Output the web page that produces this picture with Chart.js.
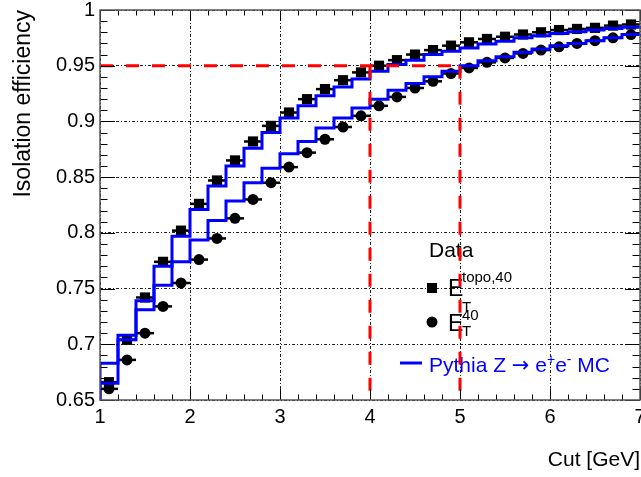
<!DOCTYPE html>
<html lang="en">
<head>
<meta charset="UTF-8" />
<title>Isolation efficiency vs cut</title>
<style>
  body { margin: 0; background: #fff; }
  canvas { display: block; }
</style>
<script src="https://cdn.jsdelivr.net/npm/chart.js"></script>
</head>
<body>
<canvas id="chart" width="641" height="477"></canvas>
<script>
// bin centres of the isolation cut [GeV], bins 0.2 GeV wide
const cutCenters = [1.1, 1.3, 1.5, 1.7, 1.9, 2.1, 2.3, 2.5, 2.7, 2.9,
                    3.1, 3.3, 3.5, 3.7, 3.9, 4.1, 4.3, 4.5, 4.7, 4.9,
                    5.1, 5.3, 5.5, 5.7, 5.9, 6.1, 6.3, 6.5, 6.7, 6.9];
const binHalfWidth = 0.1;

// Data, E_T^{topo,40} (squares)
const dataTopo = [0.666, 0.704, 0.742, 0.774, 0.802, 0.826, 0.847, 0.865, 0.882, 0.896,
                  0.908, 0.920, 0.929, 0.937, 0.944, 0.950, 0.955, 0.960, 0.964, 0.968,
                  0.971, 0.974, 0.976, 0.978, 0.980, 0.982, 0.983, 0.984, 0.986, 0.987];
// Data, E_T^{40} (circles)
const dataCalo = [0.660, 0.686, 0.710, 0.734, 0.755, 0.776, 0.795, 0.813, 0.830, 0.845,
                  0.859, 0.872, 0.884, 0.895, 0.905, 0.914, 0.922, 0.930, 0.936, 0.943,
                  0.948, 0.953, 0.957, 0.961, 0.964, 0.967, 0.970, 0.9725, 0.975, 0.978];
// Pythia Z -> ee MC histograms
const mcTopo = [0.683, 0.708, 0.739, 0.770, 0.797, 0.821, 0.842, 0.860, 0.876, 0.890,
                0.903, 0.914, 0.923, 0.931, 0.938, 0.945, 0.951, 0.955, 0.960, 0.963,
                0.966, 0.9695, 0.972, 0.975, 0.977, 0.979, 0.9805, 0.982, 0.9835, 0.9845];
const mcCalo = [0.665, 0.704, 0.731, 0.753, 0.774, 0.7935, 0.811, 0.8285, 0.845, 0.858,
                0.871, 0.882, 0.894, 0.903, 0.912, 0.920, 0.928, 0.934, 0.940, 0.945,
                0.950, 0.9545, 0.958, 0.962, 0.965, 0.968, 0.970, 0.9725, 0.975, 0.978];

// 95% working point and the two cuts reaching it
const targetEff = 0.95;
const chosenCuts = [4, 5];

const xMin = 1, xMax = 7, xStep = 1, xMinor = 0.2;
const yMin = 0.65, yMax = 1, yStep = 0.05, yMinor = 0.01;

const FONT = '"Liberation Sans", Arial, Helvetica, sans-serif';
const BLUE = '#0000ff';
const RED = '#ff0000';

function points(ys) {
  return cutCenters.map((c, i) => ({ x: c, y: ys[i] }));
}
// histogram outline: start at the axis floor, then each bin's right edge
function histo(ys) {
  const pts = [{ x: cutCenters[0] - binHalfWidth, y: yMin }];
  cutCenters.forEach((c, i) => pts.push({ x: c + binHalfWidth, y: ys[i] }));
  return pts;
}

const errorBars = {
  id: 'errorBars',
  beforeDatasetsDraw(chart) {
    const { ctx, scales: { x, y } } = chart;
    ctx.save();
    ctx.strokeStyle = '#000';
    ctx.lineWidth = 2.5;
    [dataTopo, dataCalo].forEach(ys => {
      cutCenters.forEach((c, i) => {
        const py = y.getPixelForValue(ys[i]);
        ctx.beginPath();
        ctx.moveTo(x.getPixelForValue(c - binHalfWidth), py);
        ctx.lineTo(x.getPixelForValue(c + binHalfWidth), py);
        ctx.stroke();
      });
    });
    ctx.restore();
  }
};

const legendBox = {
  id: 'legendBox',
  beforeDatasetsDraw(chart) {
    const ctx = chart.ctx;
    ctx.save();
    ctx.textBaseline = 'alphabetic';
    ctx.textAlign = 'left';
    ctx.fillStyle = '#000';
    ctx.font = '21px ' + FONT;
    ctx.fillText('Data', 429, 257);

    // square entry
    ctx.fillRect(427, 283, 10, 10);
    ctx.font = '23px ' + FONT;
    ctx.fillText('E', 448, 296);
    ctx.font = '15px ' + FONT;
    ctx.fillText('topo,40', 462, 282);
    ctx.fillText('T', 462, 312);

    // circle entry
    ctx.beginPath();
    ctx.arc(432, 322, 5.5, 0, Math.PI * 2);
    ctx.fill();
    ctx.font = '23px ' + FONT;
    ctx.fillText('E', 448, 331);
    ctx.font = '15px ' + FONT;
    ctx.fillText('40', 462, 320);
    ctx.fillText('T', 462, 336);

    // MC entry
    ctx.strokeStyle = BLUE;
    ctx.lineWidth = 3;
    ctx.beginPath();
    ctx.moveTo(400, 363);
    ctx.lineTo(422, 363);
    ctx.stroke();
    ctx.fillStyle = BLUE;
    let xx = 429;
    const parts = [
      ['Pythia Z ', '21px ' + FONT, 0],
      ['\u2192', '21px "DejaVu Sans", sans-serif', 0],
      [' e', '21px ' + FONT, 0],
      ['+', '14px ' + FONT, -8],
      ['e', '21px ' + FONT, 0],
      ['-', '14px ' + FONT, -8],
      [' MC', '21px ' + FONT, 0]
    ];
    parts.forEach(([t, f, dy]) => {
      ctx.font = f;
      ctx.fillText(t, xx, 372 + dy);
      xx += ctx.measureText(t).width;
    });
    ctx.restore();
  }
};

const frameTicks = {
  id: 'frameTicks',
  afterDraw(chart) {
    const { ctx, chartArea: a, scales: { x, y } } = chart;
    ctx.save();
    ctx.strokeStyle = '#000';
    ctx.lineWidth = 1;
    ctx.beginPath();
    const nx = Math.round((xMax - xMin) / xMinor);
    for (let i = 0; i <= nx; i++) {
      const px = Math.round(x.getPixelForValue(xMin + i * xMinor)) + 0.5;
      const len = i % 5 === 0 ? 11 : 5.5;
      ctx.moveTo(px, a.bottom); ctx.lineTo(px, a.bottom - len);
      ctx.moveTo(px, a.top); ctx.lineTo(px, a.top + len);
    }
    const ny = Math.round((yMax - yMin) / yMinor);
    for (let i = 0; i <= ny; i++) {
      const py = Math.round(y.getPixelForValue(yMin + i * yMinor)) + 0.5;
      const len = i % 5 === 0 ? 15 : 7.5;
      ctx.moveTo(a.left, py); ctx.lineTo(a.left + len, py);
      ctx.moveTo(a.right, py); ctx.lineTo(a.right - len, py);
    }
    ctx.stroke();
    ctx.strokeStyle = '#555';
    ctx.lineWidth = 1.5;
    ctx.strokeRect(a.left, a.top, a.right - a.left, a.bottom - a.top);
    ctx.restore();
  }
};

const refLine = (pts) => ({
  data: pts,
  showLine: true,
  borderColor: RED,
  borderWidth: 3,
  borderDash: [13, 13],
  pointRadius: 0,
  order: 0
});

new Chart(document.getElementById('chart'), {
  type: 'scatter',
  data: {
    datasets: [
      refLine([{ x: xMin, y: targetEff }, { x: chosenCuts[1], y: targetEff }]),
      refLine([{ x: chosenCuts[0], y: targetEff }, { x: chosenCuts[0], y: yMin }]),
      refLine([{ x: chosenCuts[1], y: targetEff }, { x: chosenCuts[1], y: yMin }]),
      {
        label: 'MC topo', data: histo(mcTopo), showLine: true, stepped: 'after',
        borderColor: BLUE, borderWidth: 3, pointRadius: 0, order: 1
      },
      {
        label: 'MC calo', data: histo(mcCalo), showLine: true, stepped: 'after',
        borderColor: BLUE, borderWidth: 3, pointRadius: 0, order: 1
      },
      {
        label: 'E_T topo,40', data: points(dataTopo), pointStyle: 'rect',
        pointRadius: 7.2, backgroundColor: '#000', borderColor: '#000', borderWidth: 0, order: 2
      },
      {
        label: 'E_T 40', data: points(dataCalo), pointStyle: 'circle',
        pointRadius: 5.5, backgroundColor: '#000', borderColor: '#000', borderWidth: 0, order: 2
      }
    ]
  },
  options: {
    responsive: false,
    devicePixelRatio: 1,
    animation: false,
    events: [],
    layout: { autoPadding: false, padding: { top: 10, right: 1, bottom: 0, left: 0 } },
    plugins: { legend: { display: false }, tooltip: { enabled: false } },
    scales: {
      x: {
        type: 'linear', min: xMin, max: xMax,
        ticks: {
          stepSize: xStep, color: '#000', padding: 5, maxRotation: 0,
          font: { family: FONT, size: 20 },
          callback: v => String(v)
        },
        grid: { color: '#222', lineWidth: 1, drawTicks: false },
        border: { display: false, dash: [3, 2, 1, 2] },
        title: {
          display: true, text: 'Cut [GeV]', align: 'end', color: '#000',
          font: { family: FONT, size: 21 }, padding: { top: 0, bottom: 4 }
        },
        afterFit(s) { s.height = 77; s.paddingLeft = 0; s.paddingRight = 0; }
      },
      y: {
        min: yMin, max: yMax,
        ticks: {
          stepSize: yStep, color: '#000', padding: 5,
          font: { family: FONT, size: 20 },
          callback: v => String(parseFloat(v.toFixed(2)))
        },
        grid: { color: '#222', lineWidth: 1, drawTicks: false },
        border: { display: false, dash: [3, 2, 1, 2] },
        title: {
          display: true, text: 'Isolation efficiency', align: 'end', color: '#000',
          font: { family: FONT, size: 23 }, padding: { top: 10, bottom: 0 }
        },
        afterFit(s) { s.width = 100; s.paddingTop = 0; s.paddingBottom = 0; }
      }
    }
  },
  plugins: [errorBars, legendBox, frameTicks]
});
</script>
</body>
</html>
